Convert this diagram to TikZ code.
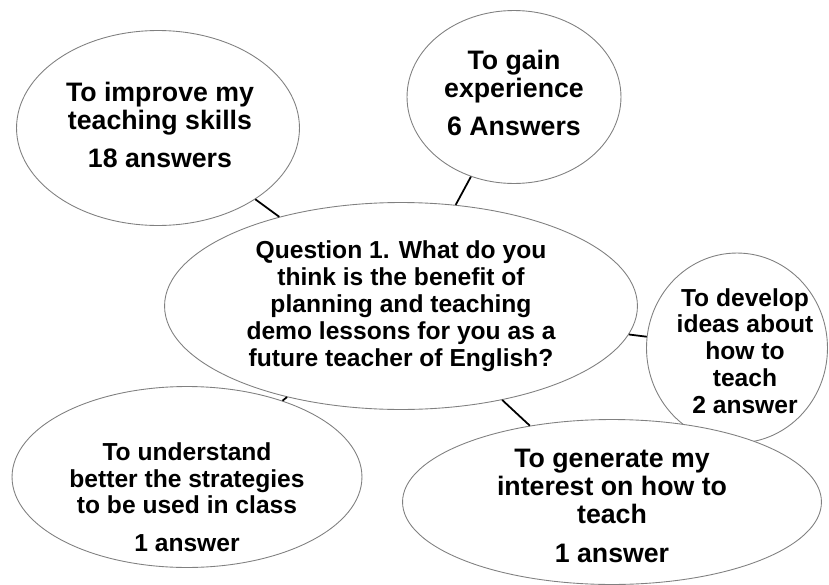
\documentclass[tikz,border=0pt]{standalone}
\usepackage{fontspec}
\setmainfont{Liberation Sans}
\usetikzlibrary{shapes.geometric}

\begin{document}
\begin{tikzpicture}[x=0.02cm, y=-0.02cm,
	bubble/.style={ellipse, draw=black!50, line width=0.5pt, fill=white, inner sep=0pt},
	txt/.style={align=center, inner sep=0pt, font=\bfseries\fontsize{14}{15.3}\selectfont},
	bigtxt/.style={txt, font=\bfseries\fontsize{15.2}{15.9}\selectfont},
	link/.style={line width=1pt}]
	\useasboundingbox (0,0) rectangle (829,585);
	% the bubbles
	\node[bubble, minimum width=5.66cm, minimum height=3.9cm] (improve) at (158,128) {};
	\node[bubble, minimum width=4.28cm, minimum height=3.46cm] (gain) at (514,97) {};
	\node[bubble, minimum width=9.46cm, minimum height=4.14cm] (question) at (401,306) {};
	\node[bubble, minimum width=3.62cm, minimum height=3.8cm] (develop) at (737,348) {};
	\node[bubble, minimum width=7cm, minimum height=3.62cm] (understand) at (187,477) {};
	\node[bubble, minimum width=8.38cm, minimum height=3.3cm] (generate) at (612,502) {};
	% links to the question
	\draw[link] (question) -- (improve);
	\draw[link] (question) -- (gain);
	\draw[link] (question) -- (develop);
	\draw[link] (question) -- (understand);
	\draw[link] (question) -- (generate);
	% texts
	\node[bigtxt] (improve-t) at (160,125) {To improve my\\teaching skills\\[6pt]18 answers};
	\node[bigtxt] (gain-t) at (514,93) {To gain\\experience\\[6pt]6 Answers};
	\node[txt] (question-t) at (401,306) {Question 1. What do you\\think is the benefit of\\planning and teaching\\demo lessons for you as a\\future teacher of English?};
	\node[txt] (develop-t) at (745,351) {To develop\\ideas about\\how to\\teach\\2 answer};
	\node[txt] (understand-t) at (187,497) {To understand\\better the strategies\\to be used in class\\[6pt]1 answer};
	\node[bigtxt] (generate-t) at (612,506) {To generate my\\interest on how to\\teach\\[6pt]1 answer};
\end{tikzpicture}
\end{document}
